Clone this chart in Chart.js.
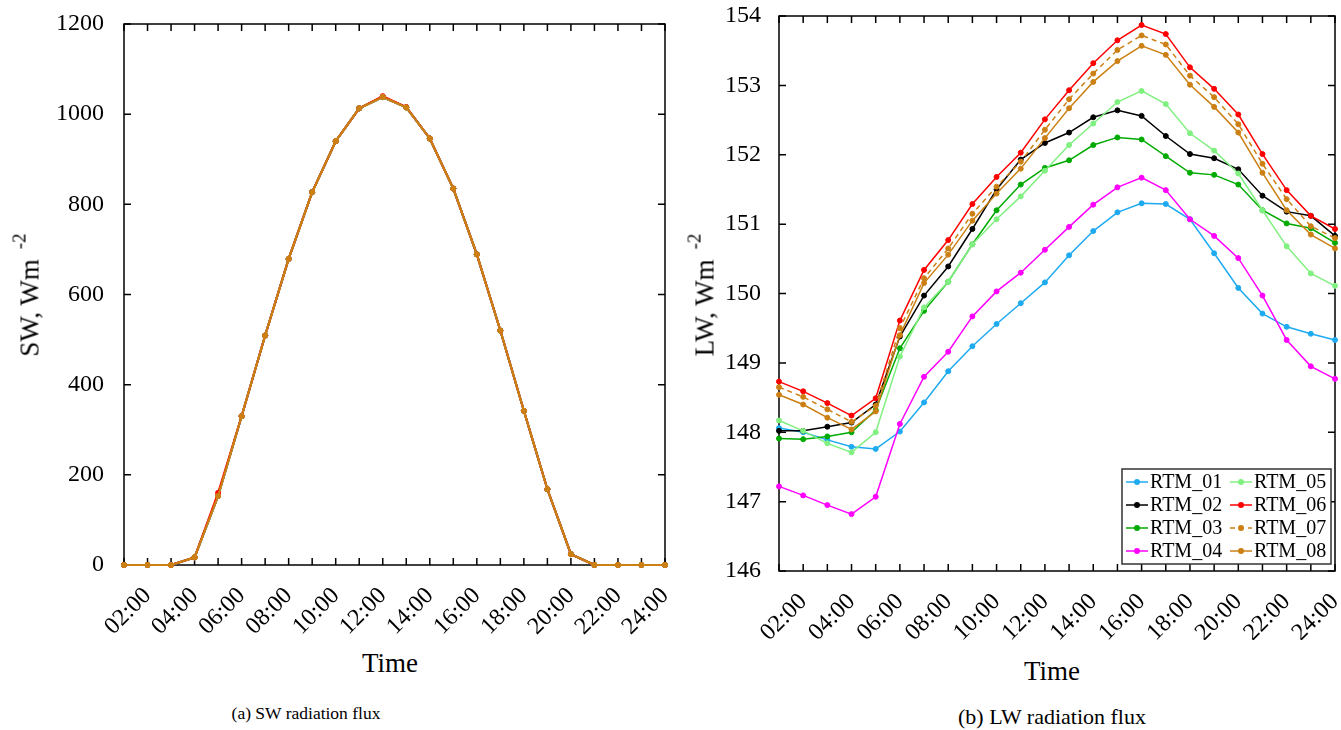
<!DOCTYPE html>
<html>
<head>
<meta charset="utf-8">
<script src="https://cdn.jsdelivr.net/npm/chart.js@4.4.1/dist/chart.umd.min.js"></script>
<style>
  body { margin: 0; width: 1341px; height: 730px; background: #fff; position: relative; overflow: hidden; font-family: "Liberation Serif", serif; color: #000; }
  .panel { position: absolute; top: 0; }
  .ytitle { position: absolute; transform: translate(-50%, -50%) rotate(-90deg); white-space: nowrap; font-size: 27px; line-height: 1; }
  .ytitle span { position: relative; top: -13px; font-size: 19px; margin-left: 10px; }
  .xtitle, .caption { position: absolute; transform: translate(-50%, -50%); white-space: nowrap; line-height: 1; }
  .xtitle { font-size: 27px; }
</style>
</head>
<body>
<div class="panel" style="left:0"><canvas id="swchart" width="700" height="640"></canvas></div>
<div class="panel" style="left:680px"><canvas id="lwchart" width="661" height="640"></canvas></div>

<div class="ytitle" style="left:30px; top:295px">SW, Wm<span>-2</span></div>
<div class="ytitle" style="left:705px; top:295px">LW, Wm<span>-2</span></div>
<div class="xtitle" style="left:390px; top:663px">Time</div>
<div class="xtitle" style="left:1052px; top:671px">Time</div>
<div class="caption" style="left:306px; top:714px; font-size:17.5px">(a) SW radiation flux</div>
<div class="caption" style="left:1052px; top:717px; font-size:22px">(b) LW radiation flux</div>

<script>
// time axis, one point per hour
const timeLabels = ["01:00", "02:00", "03:00", "04:00", "05:00", "06:00", "07:00", "08:00",
  "09:00", "10:00", "11:00", "12:00", "13:00", "14:00", "15:00", "16:00",
  "17:00", "18:00", "19:00", "20:00", "21:00", "22:00", "23:00", "24:00"];

const seriesNames = ["RTM_01", "RTM_02", "RTM_03", "RTM_04", "RTM_05", "RTM_06", "RTM_07", "RTM_08"];
const seriesColors = ["#1eaaf0", "#000000", "#00aa00", "#ff00ff", "#80f080", "#ff0000", "#cc8014", "#cc8014"];
const seriesDashed = [false, false, false, false, false, false, true, false];

// SW flux: all runs lie on top of each other, RTM_06 a bit higher at 05:00
const swFlux = [0, 0, 0, 17, 153, 330, 509, 679, 827, 940, 1013, 1038,
  1015, 946, 835, 689, 520, 342, 168, 24, 0, 0, 0, 0];
const swFluxRtm06 = [0, 0, 0, 17, 160, 330, 509, 679, 827, 940, 1013, 1040,
  1016, 946, 835, 689, 520, 342, 168, 24, 0, 0, 0, 0];
const swTicks = [0, 200, 400, 600, 800, 1000, 1200];

// LW flux per run
const lwRtm01 = [148.06, 148.00, 147.89, 147.79, 147.76, 148.01, 148.43, 148.88, 149.24, 149.56, 149.86, 150.16,
  150.55, 150.90, 151.17, 151.30, 151.29, 151.07, 150.58, 150.08, 149.71, 149.52, 149.42, 149.33];
const lwRtm02 = [148.02, 148.02, 148.08, 148.14, 148.40, 149.38, 149.97, 150.39, 150.93, 151.50, 151.93, 152.17,
  152.32, 152.54, 152.64, 152.56, 152.27, 152.01, 151.95, 151.79, 151.41, 151.18, 151.12, 150.83];
const lwRtm03 = [147.91, 147.90, 147.94, 148.00, 148.32, 149.21, 149.75, 150.17, 150.71, 151.20, 151.57, 151.81,
  151.92, 152.14, 152.25, 152.22, 151.98, 151.74, 151.71, 151.57, 151.20, 151.01, 150.94, 150.73];
const lwRtm04 = [147.22, 147.09, 146.95, 146.82, 147.07, 148.12, 148.80, 149.16, 149.67, 150.03, 150.30, 150.63,
  150.96, 151.28, 151.53, 151.67, 151.49, 151.07, 150.83, 150.51, 149.97, 149.33, 148.95, 148.77];
const lwRtm05 = [148.17, 148.02, 147.84, 147.71, 148.00, 149.09, 149.80, 150.17, 150.71, 151.07, 151.40, 151.77,
  152.14, 152.45, 152.76, 152.92, 152.73, 152.31, 152.06, 151.73, 151.20, 150.68, 150.29, 150.11];
const lwRtm06 = [148.73, 148.59, 148.42, 148.24, 148.49, 149.61, 150.34, 150.77, 151.29, 151.68, 152.03, 152.51,
  152.93, 153.32, 153.65, 153.87, 153.74, 153.26, 152.95, 152.58, 152.01, 151.49, 151.12, 150.93];
const lwRtm07 = [148.65, 148.51, 148.33, 148.15, 148.38, 149.50, 150.22, 150.65, 151.15, 151.54, 151.90, 152.36,
  152.80, 153.17, 153.51, 153.72, 153.59, 153.14, 152.83, 152.44, 151.87, 151.36, 150.97, 150.80];
const lwRtm08 = [148.54, 148.40, 148.21, 148.04, 148.30, 149.40, 150.15, 150.56, 151.05, 151.44, 151.80, 152.24,
  152.67, 153.05, 153.35, 153.57, 153.44, 153.01, 152.69, 152.32, 151.74, 151.20, 150.85, 150.65];
const lwTicks = [146, 147, 148, 149, 150, 151, 152, 153, 154];

const serifFont = '"Liberation Serif", "Times New Roman", Times, serif';

// box round the plot with inward ticks on all four sides
const frameTicks = {
  id: "frameTicks",
  beforeDatasetsDraw(chart) {
    const ctx = chart.ctx;
    const a = chart.chartArea;
    const xs = chart.scales.x;
    const ys = chart.scales.y;
    ctx.save();
    ctx.strokeStyle = "#000";
    ctx.lineWidth = 1.5;
    ctx.strokeRect(a.left, a.top, a.right - a.left, a.bottom - a.top);
    ctx.beginPath();
    xs.ticks.forEach((t, i) => {
      const px = xs.getPixelForTick(i);
      ctx.moveTo(px, a.bottom);
      ctx.lineTo(px, a.bottom - 7);
      ctx.moveTo(px, a.top);
      ctx.lineTo(px, a.top + 7);
    });
    ys.ticks.forEach((t, i) => {
      const py = ys.getPixelForTick(i);
      ctx.moveTo(a.left, py);
      ctx.lineTo(a.left + 7, py);
      ctx.moveTo(a.right, py);
      ctx.lineTo(a.right - 7, py);
    });
    ctx.stroke();
    ctx.restore();
  },
};

// two column legend, filled column by column
const lwLegend = {
  id: "lwLegend",
  afterDraw(chart) {
    const ctx = chart.ctx;
    const a = chart.chartArea;
    const w = 209, h = 95;
    const left = a.right - 4 - w;
    const top = a.bottom - 7 - h;
    ctx.save();
    ctx.fillStyle = "#fff";
    ctx.fillRect(left, top, w, h);
    ctx.strokeStyle = "#333";
    ctx.lineWidth = 1.5;
    ctx.strokeRect(left, top, w, h);
    ctx.font = "20px " + serifFont;
    ctx.textBaseline = "middle";
    ctx.textAlign = "left";
    chart.data.datasets.forEach((ds, i) => {
      const col = Math.floor(i / 4);
      const row = i % 4;
      const x0 = left + 4 + col * 104;
      const y0 = top + 13 + row * 23;
      ctx.strokeStyle = ds.borderColor;
      ctx.fillStyle = ds.borderColor;
      ctx.lineWidth = 1.5;
      ctx.setLineDash(ds.borderDash || []);
      ctx.beginPath();
      ctx.moveTo(x0, y0);
      ctx.lineTo(x0 + 22, y0);
      ctx.stroke();
      ctx.setLineDash([]);
      ctx.beginPath();
      ctx.arc(x0 + 11, y0, 3, 0, Math.PI * 2);
      ctx.fill();
      ctx.fillStyle = "#000";
      ctx.fillText(ds.label, x0 + 24, y0 + 1);
    });
    ctx.restore();
  },
};

function buildOptions(yMin, yMax, yStep, yWidth, xHeight, pad, yPad) {
  return {
    responsive: false,
    animation: false,
    layout: { padding: pad },
    plugins: { legend: { display: false }, tooltip: { enabled: false } },
    scales: {
      x: {
        type: "category",
        offset: false,
        grid: { display: false, drawTicks: false },
        border: { display: false },
        ticks: {
          autoSkip: false,
          minRotation: 45,
          maxRotation: 45,
          padding: 17,
          color: "#000",
          font: { family: serifFont, size: 24 },
          callback: function (val, idx) {
            return idx % 2 === 1 ? this.getLabelForValue(val) : "";
          },
        },
        afterFit(scale) {
          scale.height = xHeight;
          scale.paddingLeft = 0;
          scale.paddingRight = 0;
        },
      },
      y: {
        min: yMin,
        max: yMax,
        grid: { display: false, drawTicks: false },
        border: { display: false },
        ticks: {
          stepSize: yStep,
          padding: yPad,
          color: "#000",
          font: { family: serifFont, size: 24 },
          callback: (v) => String(v),
        },
        afterFit(scale) {
          scale.width = yWidth;
          scale.paddingTop = 0;
          scale.paddingBottom = 0;
        },
      },
    },
  };
}

function makeDataset(i, values, radius, width) {
  return {
    label: seriesNames[i],
    data: values,
    borderColor: seriesColors[i],
    backgroundColor: seriesColors[i],
    pointBackgroundColor: seriesColors[i],
    pointBorderColor: seriesColors[i],
    pointBorderWidth: 1,
    pointRadius: radius,
    borderWidth: width,
    borderDash: seriesDashed[i] ? [5, 4] : [],
    tension: 0,
    clip: false,
    order: 8 - i,
  };
}

function drawCharts() {
  // SW chart
  const swSeries = [swFlux, swFlux, swFlux, swFlux, swFlux, swFluxRtm06, swFlux, swFlux];
  const swctx = document.getElementById("swchart").getContext("2d");
  new Chart(swctx, {
    type: "line",
    data: {
      labels: timeLabels,
      datasets: swSeries.map((v, i) => makeDataset(i, v, 2.5, 2)),
    },
    options: buildOptions(swTicks[0], swTicks[swTicks.length - 1], 200, 124, 75,
      { top: 24, right: 35, left: 0, bottom: 0 }, 20),
    plugins: [frameTicks],
  });

  // LW chart
  const lwSeries = [lwRtm01, lwRtm02, lwRtm03, lwRtm04, lwRtm05, lwRtm06, lwRtm07, lwRtm08];
  const lwctx = document.getElementById("lwchart").getContext("2d");
  new Chart(lwctx, {
    type: "line",
    data: {
      labels: timeLabels,
      datasets: lwSeries.map((v, i) => makeDataset(i, v, 2.5, 1.5)),
    },
    options: buildOptions(lwTicks[0], lwTicks[lwTicks.length - 1], 1, 99, 69,
      { top: 16, right: 6, left: 0, bottom: 0 }, 18),
    plugins: [frameTicks, lwLegend],
  });
}

// make sure the serif face is ready before the canvas text is drawn
document.fonts.load('24px "Liberation Serif"').then(drawCharts, drawCharts);
</script>
</body>
</html>
